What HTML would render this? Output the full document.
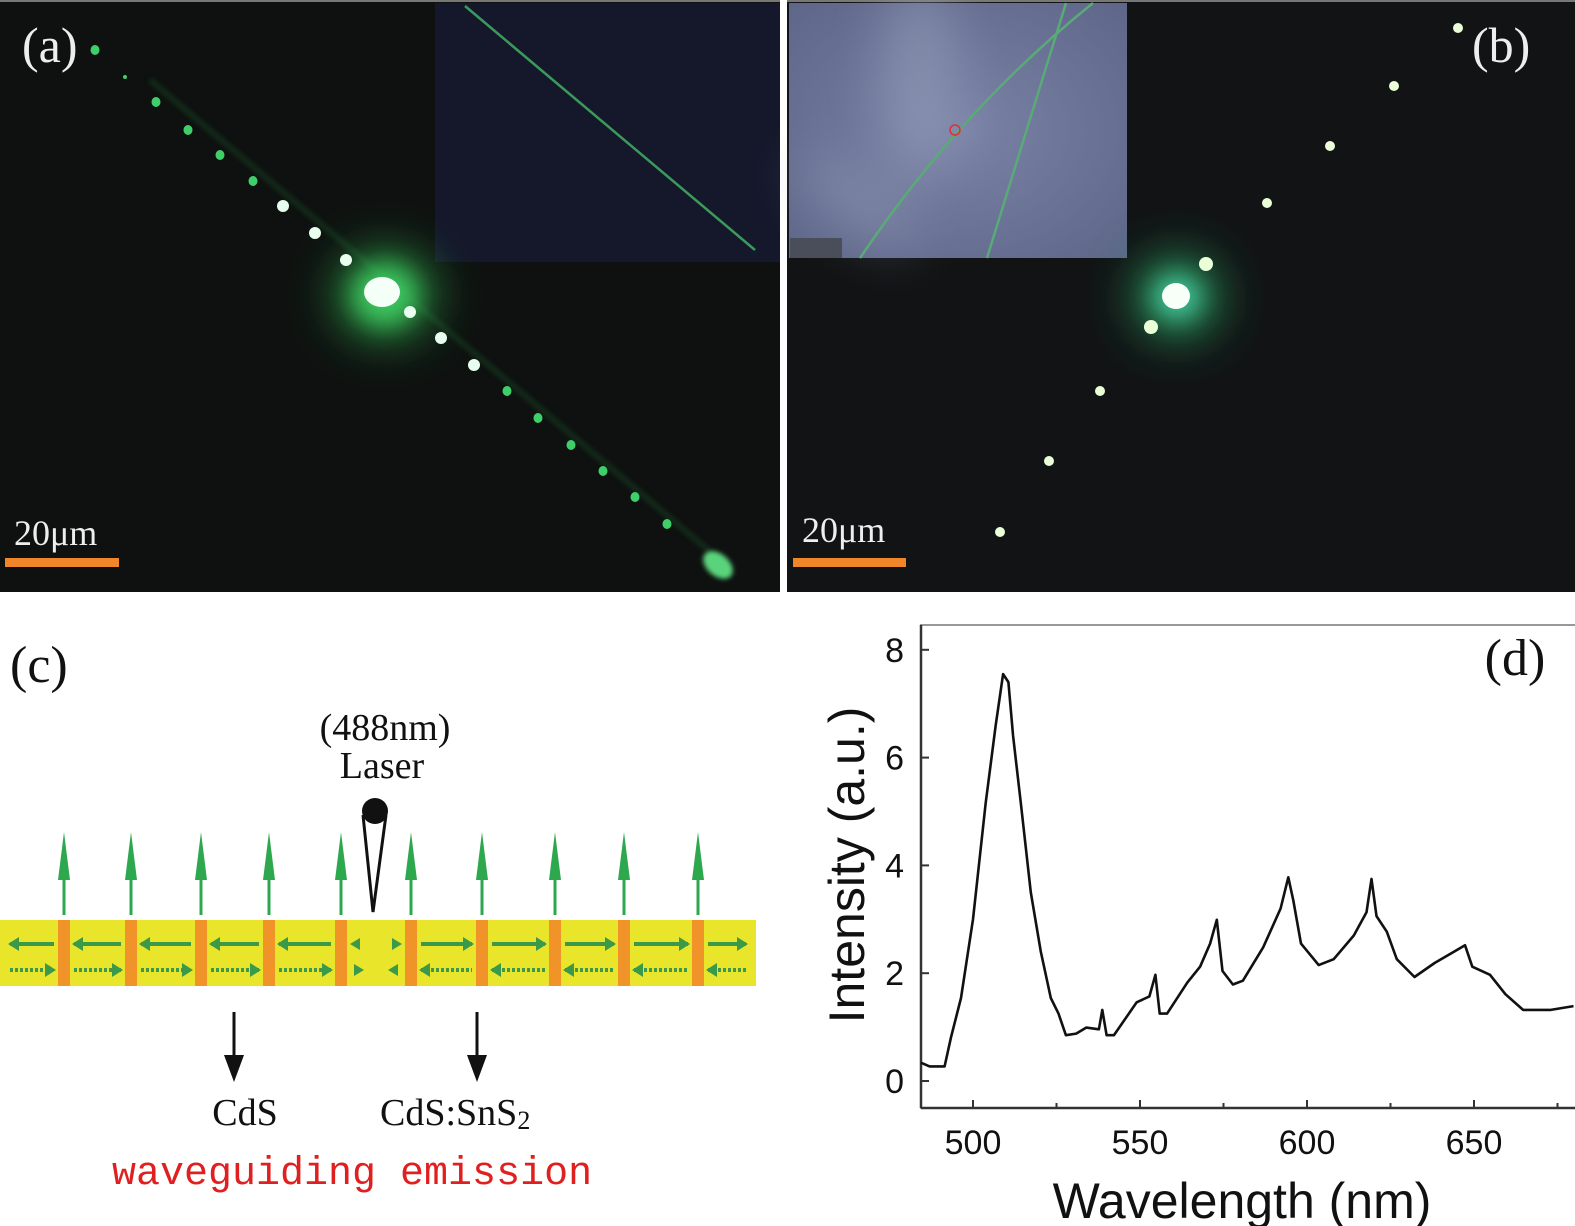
<!DOCTYPE html>
<html><head><meta charset="utf-8"><style>
html,body{margin:0;padding:0;background:#fff;}
svg{display:block;}
</style></head><body>
<svg width="1575" height="1226" viewBox="0 0 1575 1226" xmlns="http://www.w3.org/2000/svg">
<defs>
<filter id="blur2" x="-50%" y="-50%" width="200%" height="200%"><feGaussianBlur stdDeviation="2.5"/></filter>
<filter id="blur8" x="-100%" y="-100%" width="300%" height="300%"><feGaussianBlur stdDeviation="12"/></filter>
<filter id="blur20" x="-100%" y="-100%" width="300%" height="300%"><feGaussianBlur stdDeviation="25"/></filter>
<radialGradient id="insetB" cx="0.5" cy="0.5" r="0.7"><stop offset="0" stop-color="#7a82a6"/><stop offset="1" stop-color="#5e6689"/></radialGradient>
</defs>

<g>
<rect x="0" y="0" width="780" height="592" fill="#0e1110"/>
<rect x="0" y="0" width="780" height="2" fill="#777"/>
<rect x="435" y="3" width="345" height="259" fill="#15172b"/>
<line x1="465" y1="6" x2="755" y2="250" stroke="#3b9a5b" stroke-width="2.5"/>
<line x1="150" y1="80" x2="720" y2="560" stroke="#1c5a2c" stroke-width="6" opacity="0.35" filter="url(#blur2)"/>
<ellipse cx="385" cy="295" rx="45" ry="40" fill="#2ea84a" filter="url(#blur20)"/>
<ellipse cx="385" cy="295" rx="30" ry="28" fill="#3ec760" filter="url(#blur8)"/>
<g id="dotsA" fill="#56e07a"></g>
<circle cx="125" cy="77" r="2" fill="#3fcf6a"/>
<ellipse cx="382" cy="292" rx="18" ry="15" fill="#f4fff8"/>
<ellipse cx="718" cy="565" rx="17" ry="11" transform="rotate(40 718 565)" fill="#5ad47c" filter="url(#blur2)"/>
<text x="22" y="62" font-family="Liberation Serif, serif" font-size="50" fill="#eee">(a)</text>
<text x="14" y="545" font-family="Liberation Serif, serif" font-size="36" fill="#eee">20μm</text>
<rect x="5" y="558" width="114" height="9" fill="#f0862a"/>
</g>

<g>
<rect x="787" y="0" width="788" height="592" fill="#111314"/>
<rect x="787" y="0" width="788" height="2" fill="#777"/>
<rect x="789" y="3" width="338" height="255" fill="url(#insetB)"/>
<ellipse cx="920" cy="80" rx="40" ry="100" fill="#9aa2be" opacity="0.5" filter="url(#blur20)"/>
<ellipse cx="860" cy="200" rx="70" ry="30" transform="rotate(35 860 200)" fill="#9aa2be" opacity="0.4" filter="url(#blur20)"/>
<rect x="790" y="238" width="52" height="20" fill="#4a4d5a"/>
<path d="M860,258 Q960,110 1093,3" fill="none" stroke="#5aaa78" stroke-width="2.5"/>
<line x1="987" y1="258" x2="1066" y2="3" stroke="#5aaa78" stroke-width="2.5"/>
<circle cx="955" cy="130" r="5" fill="none" stroke="#e03030" stroke-width="1.5"/>
<ellipse cx="1177" cy="297" rx="40" ry="38" fill="#2aa060" filter="url(#blur20)"/>
<ellipse cx="1177" cy="297" rx="22" ry="20" fill="#44c8a0" filter="url(#blur8)"/>
<g id="dotsB" fill="#e8ffe0"></g>
<ellipse cx="1176" cy="296" rx="14" ry="13" fill="#f8fff8"/>
<text x="1472" y="62" font-family="Liberation Serif, serif" font-size="50" fill="#eee">(b)</text>
<text x="802" y="542" font-family="Liberation Serif, serif" font-size="36" fill="#eee">20μm</text>
<rect x="793" y="558" width="113" height="9" fill="#f0862a"/>
</g>

<g>
<text x="10" y="682" font-family="Liberation Serif, serif" font-size="52" fill="#111">(c)</text>
<text x="385" y="740" text-anchor="middle" font-family="Liberation Serif, serif" font-size="38" fill="#111">(488nm)</text>
<text x="382" y="778" text-anchor="middle" font-family="Liberation Serif, serif" font-size="38" fill="#111">Laser</text>
<rect x="0" y="920" width="756" height="66" fill="#e8e52a"/>
<g id="segsC"></g>
<g>
<path d="M363,815 L373,912 L386,815" fill="#fff" stroke="#111" stroke-width="3"/>
<circle cx="375" cy="811" r="13" fill="#111"/>
</g>
<g>
<line x1="234" y1="1012" x2="234" y2="1060" stroke="#111" stroke-width="3"/>
<polygon points="224,1055 244,1055 234,1082" fill="#111"/>
</g>
<g>
<line x1="477" y1="1012" x2="477" y2="1060" stroke="#111" stroke-width="3"/>
<polygon points="467,1055 487,1055 477,1082" fill="#111"/>
</g>
<text x="245" y="1125" text-anchor="middle" font-family="Liberation Serif, serif" font-size="38" fill="#111">CdS</text>
<text x="380" y="1125" font-family="Liberation Serif, serif" font-size="38" fill="#111">CdS:SnS<tspan font-size="26" dy="4">2</tspan></text>
<text x="112" y="1184" font-family="Liberation Mono, monospace" font-size="40" fill="#e02020">waveguiding emission</text>
</g>

<g>
<rect x="921" y="625" width="660" height="483" fill="none" stroke="#999" stroke-width="2"/>
<line x1="921" y1="625" x2="921" y2="1108" stroke="#333" stroke-width="2.5"/>
<line x1="921" y1="1108" x2="1575" y2="1108" stroke="#333" stroke-width="2.5"/>
<g id="ticksD"></g>
<path id="spectrum" fill="none" stroke="#111" stroke-width="2.6" stroke-linejoin="round"/>
<text x="1515" y="675" text-anchor="middle" font-family="Liberation Serif, serif" font-size="52" fill="#111">(d)</text>
<text transform="translate(864,865) rotate(-90)" text-anchor="middle" font-family="Liberation Sans, sans-serif" font-size="50" fill="#111">Intensity (a.u.)</text>
<text x="1242" y="1218" text-anchor="middle" font-family="Liberation Sans, sans-serif" font-size="50" fill="#111">Wavelength (nm)</text>
</g>
</svg>
<script>
const NS='http://www.w3.org/2000/svg';
const wavelengths=[481,487,491.5,493.4,496.4,500,503.8,506.8,509,510.6,512,514.3,517.3,520.3,523.3,525.6,527.8,530.9,533.9,537.7,538.7,540,542.2,549,552.8,554.6,555.9,558.1,564.2,568,571,573,574.7,577.8,580.8,586.9,592.1,594.4,595.9,598.2,603.5,608,614,617.8,619.3,620.8,623.9,626.9,632.2,638.2,644.3,647.3,649.5,654.8,659.4,664.7,673,679.8];
const intensity=[0.34,0.27,0.27,0.81,1.54,3.0,5.16,6.6,7.55,7.4,6.4,5.16,3.5,2.4,1.54,1.25,0.85,0.88,0.99,0.96,1.32,0.85,0.85,1.46,1.57,1.97,1.25,1.25,1.83,2.12,2.55,2.99,2.04,1.79,1.86,2.48,3.2,3.78,3.35,2.55,2.15,2.26,2.7,3.13,3.75,3.06,2.77,2.26,1.93,2.19,2.41,2.52,2.12,1.97,1.61,1.32,1.32,1.39];
const xTicks=[500,550,600,650];
const yTicks=[0,2,4,6,8];
function xs(v){return 973+(v-500)*3.34;}
function ys(v){return 1081-v*53.9;}
const sp=document.getElementById('spectrum');
sp.setAttribute('d',wavelengths.map((w,i)=>(i?'L':'M')+Math.max(xs(w),921).toFixed(1)+','+ys(intensity[i]).toFixed(1)).join(''));
const tg=document.getElementById('ticksD');
xTicks.forEach(t=>{
 const l=document.createElementNS(NS,'line');
 
 
 l.setAttribute('x1',xs(t));l.setAttribute('x2',xs(t));l.setAttribute('y1',1108);l.setAttribute('y2',1100);l.setAttribute('stroke','#333');l.setAttribute('stroke-width','2');
 tg.appendChild(l);
 const m=document.createElementNS(NS,'line');
 
 
 m.setAttribute('x1',xs(t+25));m.setAttribute('x2',xs(t+25));m.setAttribute('y1',1108);m.setAttribute('y2',1103);m.setAttribute('stroke','#333');m.setAttribute('stroke-width','2');
 tg.appendChild(m);
 const tx=document.createElementNS(NS,'text');
 
 
 tx.setAttribute('x',xs(t));tx.setAttribute('y',1154);tx.setAttribute('text-anchor','middle');tx.setAttribute('font-family','Liberation Sans, sans-serif');tx.setAttribute('font-size','34');tx.setAttribute('fill','#111');
 tx.textContent=t;tg.appendChild(tx);
});
yTicks.forEach(t=>{
 const l=document.createElementNS(NS,'line');
 
 
 l.setAttribute('x1',921);l.setAttribute('x2',929);l.setAttribute('y1',ys(t));l.setAttribute('y2',ys(t));l.setAttribute('stroke','#333');l.setAttribute('stroke-width','2');
 tg.appendChild(l);
 const tx=document.createElementNS(NS,'text');
 
 
 tx.setAttribute('x',904);tx.setAttribute('y',ys(t)+12);tx.setAttribute('text-anchor','end');tx.setAttribute('font-family','Liberation Sans, sans-serif');tx.setAttribute('font-size','34');tx.setAttribute('fill','#111');
 tx.textContent=t;tg.appendChild(tx);
});
const dotsAx=[95,156,188,220,253,283,315,346,410,441,474,507,538,571,603,635,667];
const dotsAy=[50,102,130,155,181,206,233,260,312,338,365,391,418,445,471,497,524];
const ga=document.getElementById('dotsA');
dotsAx.forEach((x,i)=>{
 const c=document.createElementNS(NS,'ellipse');
 
 
 const bright=(i>=5&&i<=10);
 c.setAttribute('cx',x);c.setAttribute('cy',dotsAy[i]);c.setAttribute('rx',bright?6:4.5);c.setAttribute('ry',bright?6:5);
 c.setAttribute('fill',bright?'#e8fff0':'#3fcf6a');
 ga.appendChild(c);
});
const dotsBx=[1000,1049,1100,1151,1206,1267,1330,1394,1458];
const dotsBy=[532,461,391,327,264,203,146,86,28];
const gb=document.getElementById('dotsB');
dotsBx.forEach((x,i)=>{
 const c=document.createElementNS(NS,'circle');
 
 
 c.setAttribute('cx',x);c.setAttribute('cy',dotsBy[i]);c.setAttribute('r',(i==3||i==4)?7:5);
 c.setAttribute('fill','#eaffd8');
 gb.appendChild(c);
});
const sepX=[64,131,201,269,341,411,482,555,624,698];
const gc=document.getElementById('segsC');
sepX.forEach(x=>{
 const r=document.createElementNS(NS,'rect');
 
 
 r.setAttribute('x',x-6);r.setAttribute('y',920);r.setAttribute('width',12);r.setAttribute('height',66);r.setAttribute('fill','#f0942a');
 gc.appendChild(r);
 const a=document.createElementNS(NS,'line');
 
 
 a.setAttribute('x1',x);a.setAttribute('x2',x);a.setAttribute('y1',915);a.setAttribute('y2',850);a.setAttribute('stroke','#2ea84f');a.setAttribute('stroke-width','3');
 gc.appendChild(a);
 const h=document.createElementNS(NS,'polygon');
 
 
 h.setAttribute('points',(x-6)+',880 '+x+',832 '+(x+6)+',880');h.setAttribute('fill','#2ea84f');
 gc.appendChild(h);
});
const bounds=[0].concat(sepX).concat([756]);
for(let i=0;i<bounds.length-1;i++){
 const a=bounds[i]+10,b=bounds[i+1]-10;
 if(i===5){
  [[a+6,-1,944],[b-6,1,944],[a+6,1,970],[b-6,-1,970]].forEach(p=>{
   const t=document.createElementNS(NS,'polygon');
   
   
   const x=p[0],d=p[1],y=p[2];
   t.setAttribute('points',(x+d*7)+','+y+' '+(x-d*3)+','+(y-6)+' '+(x-d*3)+','+(y+6));t.setAttribute('fill','#3a9a4a');
   gc.appendChild(t);
  });
  continue;
 }
 const left=i<5;
 [[944,left?-1:1,false],[970,left?1:-1,true]].forEach(q=>{
  const y=q[0],d=q[1];
  const l=document.createElementNS(NS,'line');
  
  
  l.setAttribute('x1',a);l.setAttribute('x2',b);l.setAttribute('y1',y);l.setAttribute('y2',y);l.setAttribute('stroke','#3a9a4a');l.setAttribute('stroke-width','4');
  if(q[2])l.setAttribute('stroke-dasharray','3,2');
  gc.appendChild(l);
  const tip=d>0?b+2:a-2;
  const t=document.createElementNS(NS,'polygon');
  
  
  t.setAttribute('points',tip+','+y+' '+(tip-d*11)+','+(y-7)+' '+(tip-d*11)+','+(y+7));t.setAttribute('fill','#3a9a4a');
  gc.appendChild(t);
 });
}
</script>
</body></html>
